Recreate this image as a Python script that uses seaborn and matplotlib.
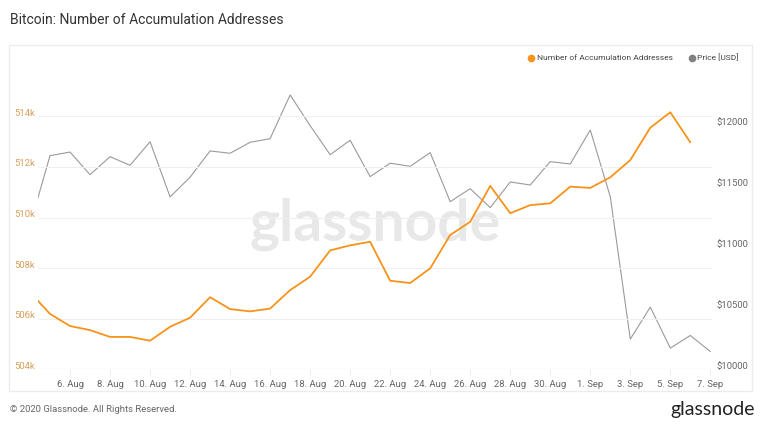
import numpy as np
import pandas as pd
import matplotlib
matplotlib.use("Agg")
import matplotlib.pyplot as plt
import matplotlib.dates as mdates
import matplotlib.transforms as mtransforms
from matplotlib.lines import Line2D
from matplotlib.patches import Rectangle
import seaborn as sns

# ---- data ----
addr_dates = pd.date_range("2020-08-04", "2020-09-06", freq="D")
accumulation_addresses = [
    507040, 506190, 505710, 505550, 505280, 505280, 505130, 505680, 506040, 506850,
    506380, 506290, 506400, 507130, 507660, 508700, 508900, 509040, 507500, 507410,
    507990, 509310, 509830, 511250, 510170, 510490, 510560, 511220, 511170, 511590,
    512270, 513550, 514160, 512970,
]
price_dates = pd.date_range("2020-08-04", "2020-09-07", freq="D")
price_usd = [
    11183, 11756, 11786, 11600, 11748, 11677, 11871, 11417, 11579, 11795,
    11776, 11866, 11896, 12255, 12003, 11764, 11883, 11584, 11694, 11669,
    11781, 11378, 11485, 11329, 11540, 11515, 11707, 11688, 11967, 11419,
    10248, 10511, 10174, 10278, 10146,
]
x_ticks = pd.date_range("2020-08-06", "2020-09-07", freq="2D")
left_ticks = [504000, 506000, 508000, 510000, 512000, 514000]
left_tick_labels = ["504k", "506k", "508k", "510k", "512k", "514k"]
right_ticks = [10000, 10500, 11000, 11500, 12000]
right_tick_labels = ["$10000", "$10500", "$11000", "$11500", "$12000"]

title = "Bitcoin: Number of Accumulation Addresses"
series_names = ["Number of Accumulation Addresses", "Price [USD]"]

df_a = pd.DataFrame({"date": addr_dates, "value": accumulation_addresses})
df_p = pd.DataFrame({"date": price_dates, "value": price_usd})

# ---- style ----
sns.set_theme(style="white")
plt.rcParams["font.family"] = ["Roboto", "DejaVu Sans"]

ORANGE = "#f7931a"
GREY = "#9a9a9a"

fig = plt.figure(figsize=(7.65, 4.25), dpi=100)
fig.patch.set_facecolor("white")

W, H = 765, 425
def fx(px): return px / W
def fy(py): return 1 - py / H

# panel border
fig.add_artist(Rectangle((fx(9), fy(391)), fx(752) - fx(9), fy(45) - fy(391),
                         transform=fig.transFigure, fill=False,
                         edgecolor="#ececec", linewidth=1.0, zorder=0))

left, right, top, bottom = 38, 712, 90, 369.3
ax = fig.add_axes([fx(left), fy(bottom), fx(right) - fx(left), fy(top) - fy(bottom)])
ax.set_facecolor("none")
ax2 = ax.twinx()

# watermark
ax.text(0.5, 0.52, "glassnode", transform=ax.transAxes, ha="center", va="center",
        fontsize=41, color="#e8e8e8", family=["Lato", "DejaVu Sans"],
        fontweight="bold", zorder=0)

sns.lineplot(data=df_p, x="date", y="value", ax=ax2, color=GREY, linewidth=0.8,
             legend=False)
sns.lineplot(data=df_a, x="date", y="value", ax=ax, color=ORANGE, linewidth=1.3,
             legend=False)
ax.set_zorder(ax2.get_zorder() + 1)

ax.set_xlim(pd.Timestamp("2020-08-04 09:36"), pd.Timestamp("2020-09-07 02:00"))
ax.set_ylim(504000, 515040)
ax2.set_ylim(10000, 12296)

for a in (ax, ax2):
    for s in a.spines.values():
        s.set_visible(False)
    a.set_xlabel("")
    a.set_ylabel("")

ax.set_yticks(left_ticks)
ax.set_yticklabels(left_tick_labels)
ax2.set_yticks(right_ticks)
ax2.set_yticklabels(right_tick_labels)
ax.set_xticks(x_ticks)
ax.set_xticklabels([d.strftime("%-d. %b") for d in x_ticks])

ax.grid(axis="y", color="#efefef", linewidth=0.8)
ax.grid(axis="x", visible=False)
ax2.grid(False)
ax.set_axisbelow(True)

ax.tick_params(axis="y", length=0, pad=2, labelsize=6.8, labelcolor="#d6a05c")
ax2.tick_params(axis="y", length=0, pad=3, labelsize=6.8, labelcolor="#666666")
ax.tick_params(axis="x", length=4, width=0.6, color="#e6e6e6", pad=4,
               labelsize=6.8, labelcolor="#666666", bottom=True)

up = mtransforms.ScaledTranslation(0, 4 / 100, fig.dpi_scale_trans)
for lab in ax.get_yticklabels() + ax2.get_yticklabels():
    lab.set_transform(lab.get_transform() + up)

# bottom axis line
ax.axhline(504000, color="#e8e8e8", linewidth=0.8, zorder=0)

# legend (manual)
fig.add_artist(Line2D([fx(531)], [fy(57.5)], marker="o", markersize=4.5,
                      color=ORANGE, transform=fig.transFigure, linestyle="none"))
fig.text(fx(537), fy(57.5), series_names[0], fontsize=6.0, color="#444444",
         va="center", ha="left")
fig.add_artist(Line2D([fx(691.5)], [fy(57.5)], marker="o", markersize=4.5,
                      color="#808080", transform=fig.transFigure, linestyle="none"))
fig.text(fx(697), fy(57.5), series_names[1], fontsize=6.0, color="#444444",
         va="center", ha="left")

# title and footer
fig.text(fx(10), fy(20), title, fontsize=10.0, color="#333333", va="center", ha="left")
fig.text(fx(10), fy(410), "© 2020 Glassnode. All Rights Reserved.", fontsize=6.8,
         color="#666666", va="center", ha="left")
fig.text(fx(755), fy(410), "glassnode", fontsize=14, color="#222222", va="center",
         ha="right", family=["Lato", "DejaVu Sans"])

fig.savefig("out.png", dpi=100, facecolor="white")
